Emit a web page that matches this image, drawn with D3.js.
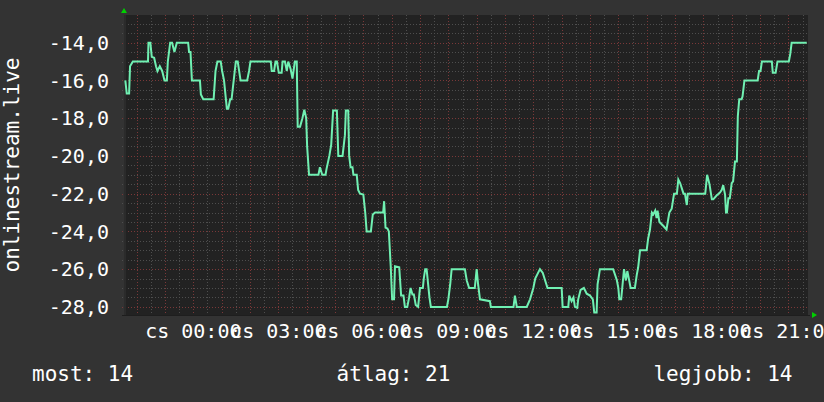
<!DOCTYPE html>
<html><head><meta charset="utf-8">
<script src="https://cdn.jsdelivr.net/npm/d3@7"></script>
<style>
html,body{margin:0;padding:0;background:#333333;overflow:hidden;}
svg{display:block;}
</style></head>
<body>
<svg id="chart" width="824" height="402"></svg>
<script>
// minutes relative to 00:00 of the labelled day
const timesMin = [-144,-141,-136,-134,-128,-96,-95,-91,-88,-83,-79,-76,-71,-66,-61,-56,-54,-49,-45,-40,-35,-11,-9,-6,-3,14,16,21,43,47,51,58,61,65,71,74,78,81,90,94,97,100,114,118,121,164,166,171,174,177,181,187,189,194,198,201,206,210,215,219,221,226,231,235,239,241,245,265,268,273,280,282,288,292,296,304,307,316,321,323,328,330,333,337,339,346,349,353,360,364,367,376,380,385,402,404,407,411,414,418,421,425,427,436,440,445,448,453,457,460,464,467,471,476,480,486,488,491,494,500,503,537,540,544,547,575,579,584,596,600,603,607,628,630,678,681,685,706,713,720,724,734,740,745,750,780,782,794,796,801,805,808,813,815,820,827,833,840,846,849,854,856,861,889,893,897,900,902,906,912,916,919,923,926,935,939,942,946,960,963,967,971,974,978,981,983,987,995,1002,1008,1013,1018,1024,1027,1031,1038,1041,1045,1047,1084,1086,1088,1093,1098,1101,1108,1115,1119,1122,1126,1128,1130,1133,1136,1140,1143,1147,1151,1153,1156,1161,1163,1167,1195,1198,1201,1204,1225,1227,1233,1237,1261,1264,1267,1299];
const values = [-16.0,-16.7,-16.7,-15.25,-15.0,-15.0,-14.0,-14.0,-14.75,-14.8,-15.25,-15.5,-15.25,-15.5,-16.0,-16.0,-15.0,-14.0,-14.0,-14.5,-14.0,-14.0,-14.5,-14.5,-16.0,-16.0,-16.75,-17.0,-17.0,-15.5,-15.0,-15.0,-15.5,-16.0,-17.5,-17.5,-17.0,-17.0,-15.0,-15.0,-15.5,-16.0,-16.0,-15.5,-15.0,-15.0,-15.5,-15.5,-15.0,-15.0,-15.6,-15.6,-15.0,-15.0,-15.5,-15.0,-15.4,-15.9,-15.0,-15.0,-18.45,-18.45,-18.0,-17.55,-18.0,-19.5,-21.0,-21.0,-20.6,-21.0,-21.0,-20.7,-20.0,-19.4,-17.6,-17.6,-20.0,-20.0,-18.9,-17.6,-17.6,-20.0,-20.6,-20.6,-21.0,-21.0,-21.8,-22.0,-22.05,-23.0,-24.0,-24.0,-23.1,-23.0,-23.0,-22.4,-23.8,-23.85,-24.0,-25.85,-27.6,-27.6,-25.85,-25.9,-27.4,-27.4,-28.0,-28.0,-27.5,-27.0,-27.35,-27.35,-27.9,-28.0,-27.0,-27.0,-26.5,-26.0,-26.0,-27.5,-28.0,-28.0,-27.6,-26.8,-26.0,-26.0,-26.6,-27.0,-27.0,-26.0,-26.8,-27.6,-27.7,-28.0,-28.0,-27.4,-28.0,-28.0,-27.6,-27.0,-26.5,-26.0,-26.2,-26.6,-27.0,-27.0,-28.0,-28.0,-27.4,-27.7,-27.5,-28.0,-28.05,-27.6,-27.1,-27.0,-27.3,-27.4,-27.6,-28.3,-28.3,-26.8,-26.0,-26.0,-26.3,-26.6,-27.0,-27.6,-27.6,-26.0,-26.6,-26.1,-26.6,-27.0,-27.0,-26.3,-25.9,-25.0,-25.0,-24.4,-23.9,-23.0,-23.1,-22.9,-23.3,-22.9,-23.5,-23.7,-23.9,-23.0,-22.8,-22.0,-22.0,-21.25,-21.45,-22.0,-22.0,-22.6,-22.0,-22.0,-21.5,-21.0,-21.5,-22.3,-22.3,-22.1,-21.95,-21.8,-21.55,-22.05,-23.0,-23.0,-22.25,-22.25,-21.45,-21.35,-20.3,-20.3,-17.9,-17.0,-17.0,-16.85,-16.0,-16.0,-15.5,-15.5,-15.0,-15.0,-15.6,-15.6,-15.0,-15.0,-14.6,-14.0,-14.0];
const yTicks = [-28,-26,-24,-22,-20,-18,-16,-14];
const xTickHours = [0,3,6,9,12,15,18,21];
const dayPrefix = "cs";
const yTitle = "onlinestream.live";
const legendItems = ["most: 14", "átlag: 21", "legjobb: 14"];
const timeDomain = [-146.8, 1301.6];
const valueDomain = [-28.43, -12.535];

const svg = d3.select("#chart");
const L = 124, R = 808, T = 15, B = 315;
const x = d3.scaleLinear().domain(timeDomain).range([L, R]);
const y = d3.scaleLinear().domain(valueDomain).range([B, T]);
const mono = "'DejaVu Sans Mono', monospace";

svg.append("rect").attr("width", 824).attr("height", 402).attr("fill", "#333333");
svg.append("rect").attr("x", L).attr("y", T).attr("width", R - L).attr("height", B - T).attr("fill", "#222222");

const grid = svg.append("g").attr("shape-rendering", "crispEdges");
// horizontal grid
const minorY = d3.range(-28, -12.9, 0.5).filter(v => !yTicks.includes(v));
grid.selectAll(".hmin").data(minorY).join("line")
  .attr("x1", L - 2).attr("x2", R).attr("y1", d => Math.round(y(d)) + 0.5).attr("y2", d => Math.round(y(d)) + 0.5)
  .attr("stroke", "#4e4e4e").attr("stroke-dasharray", "1,2");
grid.selectAll(".hmaj").data(yTicks).join("line")
  .attr("x1", L - 2).attr("x2", R).attr("y1", d => Math.round(y(d)) + 0.5).attr("y2", d => Math.round(y(d)) + 0.5)
  .attr("stroke", "#7a3838").attr("stroke-dasharray", "1,2");
// vertical grid
const halfHours = d3.range(Math.ceil(timeDomain[0] / 30) * 30, timeDomain[1], 30);
grid.selectAll(".vmin").data(halfHours.filter(m => m % 60 !== 0)).join("line")
  .attr("y1", T).attr("y2", B + 2).attr("x1", d => Math.round(x(d)) + 0.5).attr("x2", d => Math.round(x(d)) + 0.5)
  .attr("stroke", "#4e4e4e").attr("stroke-dasharray", "1,2");
grid.selectAll(".vmaj").data(halfHours.filter(m => m % 60 === 0)).join("line")
  .attr("y1", T).attr("y2", B + 3).attr("x1", d => Math.round(x(d)) + 0.5).attr("x2", d => Math.round(x(d)) + 0.5)
  .attr("stroke", "#7a3838").attr("stroke-dasharray", "1,2");

// axes lines
grid.append("line").attr("x1", L + 0.5).attr("x2", L + 0.5).attr("y1", T).attr("y2", B + 1).attr("stroke", "#2b2b2b").attr("stroke-width", 2);
grid.append("line").attr("x1", L - 2).attr("x2", R + 2).attr("y1", B + 0.5).attr("y2", B + 0.5).attr("stroke", "#1e1e1e");

// data line
const line = d3.line().x((d, i) => x(timesMin[i])).y(d => y(d));
svg.append("path").datum(values).attr("d", line)
  .attr("fill", "none").attr("stroke", "#70f0b2").attr("stroke-width", 2).attr("stroke-linejoin", "miter");

// arrows
svg.append("path").attr("d", `M${L - 3},${T - 2}L${L + 3},${T - 2}L${L},${T - 7}Z`).attr("fill", "#00d000");
svg.append("path").attr("d", `M${R + 4},${B - 3}L${R + 4},${B + 3}L${R + 9},${B}Z`).attr("fill", "#00d000");

// y labels
svg.append("g").selectAll("text").data(yTicks).join("text")
  .attr("x", 109).attr("y", d => y(d)).attr("dy", "0.36em").attr("text-anchor", "end")
  .attr("font-family", mono).attr("font-size", 20).attr("fill", "#ffffff")
  .text(d => d3.format(".1f")(d).replace("−", "-").replace(".", ","));

// x labels
svg.append("g").selectAll("text").data(xTickHours).join("text")
  .attr("x", d => x(d * 60)).attr("y", 338).attr("text-anchor", "middle")
  .attr("font-family", mono).attr("font-size", 20).attr("fill", "#ffffff")
  .text(d => `${dayPrefix} ${String(d).padStart(2, "0")}:00`);

// y title
svg.append("text").attr("transform", `translate(19,${(T + B) / 2}) rotate(-90)`)
  .attr("text-anchor", "middle").attr("font-family", mono).attr("font-size", 21).attr("fill", "#ffffff")
  .text(yTitle);

// legend
const legendX = [32, 393.5, 792.5];
const legendAnchor = ["start", "middle", "end"];
svg.append("g").selectAll("text").data(legendItems).join("text")
  .attr("x", (d, i) => legendX[i]).attr("y", 381).attr("text-anchor", (d, i) => legendAnchor[i])
  .attr("font-family", mono).attr("font-size", 21).attr("fill", "#ffffff")
  .text(d => d);
</script>
</body></html>
